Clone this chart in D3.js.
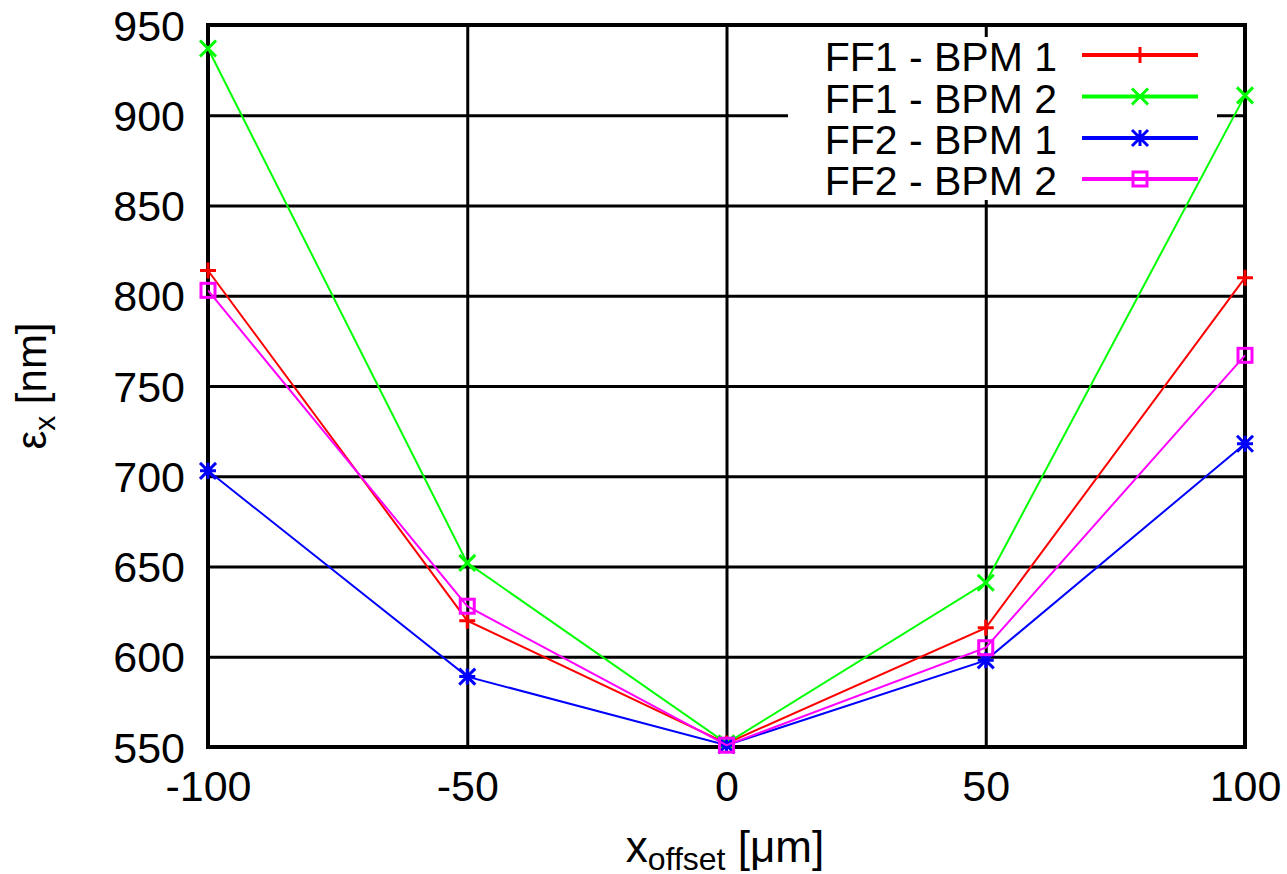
<!DOCTYPE html>
<html>
<head>
  <meta charset="utf-8">
  <script src="https://d3js.org/d3.v7.min.js"></script>
  <style>
    body{
      margin: 0;
      background-color: #ffffff;
    }
    svg text{
      font-family: "Liberation Sans", Arial, Helvetica, sans-serif;
      fill: #000000;
    }
  </style>
</head>
<body>
  <svg id="chart" width="1287" height="874"></svg>

<script>
  // values
  var xValues = [-100, -50, 0, 50, 100]
  var seriesNames = ["FF1 - BPM 1", "FF1 - BPM 2", "FF2 - BPM 1", "FF2 - BPM 2"]
  var ff1Bpm1 = [814, 620, 552, 616, 810]
  var ff1Bpm2 = [937, 652, 552, 641, 911]
  var ff2Bpm1 = [703, 589, 551, 598, 718]
  var ff2Bpm2 = [803, 628, 551, 605, 767]
  var xTicks = [-100, -50, 0, 50, 100]
  var yTicks = [550, 600, 650, 700, 750, 800, 850, 900, 950]

  var colors = ["#ff0000", "#00ff00", "#0000ff", "#ff00ff"]
  var markers = ["plus", "cross", "star", "square"]

  // plot box (window.top is taken, so no "top" here)
  var plotLeft = 208, plotRight = 1245, plotTop = 25, plotBottom = 747

  var xscale = d3.scaleLinear().domain([-100, 100]).range([plotLeft, plotRight])
  var yscale = d3.scaleLinear().domain([550, 950]).range([plotBottom, plotTop])

  var svg = d3.select("#chart")

  // grid + tick labels through d3 axes
  var yAxis = svg.append("g")
    .attr("transform", "translate(" + plotLeft + ",0)")
    .call(d3.axisLeft(yscale).tickValues(yTicks).tickSize(-(plotRight - plotLeft)).tickPadding(23)
      .tickFormat(function(d){ return String(d); }))
  var xAxis = svg.append("g")
    .attr("transform", "translate(0," + plotBottom + ")")
    .call(d3.axisBottom(xscale).tickValues(xTicks).tickSize(-(plotBottom - plotTop)).tickPadding(23)
      .tickFormat(function(d){ return String(d); }))

  svg.selectAll(".domain").remove()
  svg.selectAll(".tick line").attr("stroke", "#000").attr("stroke-width", 3)
  yAxis.selectAll("text").attr("font-size", 43).attr("dy", "0.35em")
  xAxis.selectAll("text").attr("font-size", 43).attr("dy", "0.72em")

  // white key box, hides the grid behind it
  svg.append("rect")
    .attr("x", 788).attr("y", 37)
    .attr("width", 1217 - 788).attr("height", 200 - 37)
    .attr("fill", "#fff")

  // border
  svg.append("rect")
    .attr("x", plotLeft).attr("y", plotTop)
    .attr("width", plotRight - plotLeft).attr("height", plotBottom - plotTop)
    .attr("fill", "none").attr("stroke", "#000").attr("stroke-width", 4)

  function drawMarker(g, kind, color, x, y){
    var s = 8
    if (kind == "plus"){
      g.append("path").attr("d", "M" + (x - s) + "," + y + "H" + (x + s) + "M" + x + "," + (y - s) + "V" + (y + s))
        .attr("stroke", color).attr("stroke-width", 3).attr("fill", "none")
    } else if (kind == "cross"){
      g.append("path").attr("d", "M" + (x - s) + "," + (y - s) + "L" + (x + s) + "," + (y + s) + "M" + (x - s) + "," + (y + s) + "L" + (x + s) + "," + (y - s))
        .attr("stroke", color).attr("stroke-width", 3).attr("fill", "none")
    } else if (kind == "star"){
      g.append("path").attr("d", "M" + (x - s) + "," + y + "H" + (x + s) + "M" + x + "," + (y - s) + "V" + (y + s)
          + "M" + (x - s) + "," + (y - s) + "L" + (x + s) + "," + (y + s) + "M" + (x - s) + "," + (y + s) + "L" + (x + s) + "," + (y - s))
        .attr("stroke", color).attr("stroke-width", 3).attr("fill", "none")
    } else {
      g.append("rect").attr("x", x - 7).attr("y", y - 7).attr("width", 14).attr("height", 14)
        .attr("stroke", color).attr("stroke-width", 3).attr("fill", "none")
    }
  }

  var allSeries = [ff1Bpm1, ff1Bpm2, ff2Bpm1, ff2Bpm2]
  var line = d3.line()
    .x(function(d, i){ return xscale(xValues[i]); })
    .y(function(d){ return yscale(d); })

  allSeries.forEach(function(vals, k){
    var g = svg.append("g")
    g.append("path")
      .datum(vals)
      .attr("d", line)
      .attr("fill", "none")
      .attr("stroke", colors[k])
      .attr("stroke-width", 2)
    vals.forEach(function(v, i){
      drawMarker(g, markers[k], colors[k], xscale(xValues[i]), yscale(v))
    })
  })

  // key
  var keyY = [55, 96.5, 138, 179]
  seriesNames.forEach(function(name, k){
    svg.append("text")
      .attr("x", 1057).attr("y", keyY[k] + 16)
      .attr("text-anchor", "end")
      .attr("font-size", 41)
      .text(name)
    svg.append("line")
      .attr("x1", 1082).attr("x2", 1198)
      .attr("y1", keyY[k]).attr("y2", keyY[k])
      .attr("stroke", colors[k]).attr("stroke-width", 4)
    drawMarker(svg, markers[k], colors[k], 1140, keyY[k])
  })

  // axis titles
  var xt = svg.append("text")
    .attr("x", 725).attr("y", 862)
    .attr("text-anchor", "middle")
    .attr("font-size", 44)
  xt.append("tspan").text("x")
  xt.append("tspan").attr("font-size", 32).attr("dy", 8).text("offset")
  xt.append("tspan").attr("dy", -8).text(" [μm]")

  var yt = svg.append("text")
    .attr("transform", "translate(46," + (plotTop + plotBottom) / 2 + ") rotate(-90)")
    .attr("text-anchor", "middle")
    .attr("font-size", 42)
  yt.append("tspan").text("ε")
  yt.append("tspan").attr("font-size", 30).attr("dy", 9).text("x")
  yt.append("tspan").attr("dy", -9).text(" [nm]")
</script>
</body>
</html>
